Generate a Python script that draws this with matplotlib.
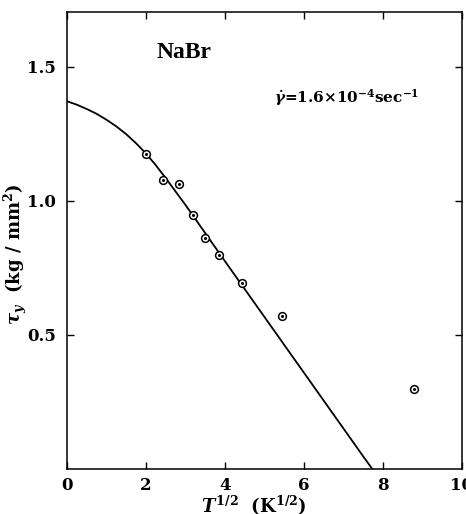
import matplotlib
matplotlib.use("Agg")
import matplotlib.pyplot as plt

# Measured data points (T^1/2, tau_y)
pts_x = [2.00, 2.43, 2.84, 3.18, 3.50, 3.85, 4.43, 5.44, 8.78]
pts_y = [1.174, 1.077, 1.065, 0.946, 0.861, 0.798, 0.693, 0.569, 0.297]

# Theoretical curve
curve_x = [0.0, 0.25, 0.5, 0.75, 1.0, 1.25, 1.5, 1.75, 2.0, 2.25, 2.5,
           3.0, 3.5, 4.0, 4.5, 5.0, 5.5, 6.0, 6.5, 7.0, 7.5, 7.73]
curve_y = [1.372, 1.359, 1.343, 1.325, 1.303, 1.278, 1.249, 1.215, 1.177, 1.133, 1.085,
           0.985, 0.880, 0.775, 0.671, 0.567, 0.463, 0.359, 0.255, 0.151, 0.047, 0.000]

xticks = [0, 2, 4, 6, 8, 10]
yticks = [0.5, 1.0, 1.5]

plt.rcParams['font.family'] = ['DejaVu Serif']
plt.rcParams['font.weight'] = 'bold'
plt.rcParams['axes.labelweight'] = 'bold'
plt.rcParams['mathtext.fontset'] = 'custom'
plt.rcParams['mathtext.rm'] = 'DejaVu Serif:bold'
plt.rcParams['mathtext.it'] = 'DejaVu Serif:bold:italic'
plt.rcParams['mathtext.bf'] = 'DejaVu Serif:bold'

fig = plt.figure(figsize=(4.66, 5.14), dpi=100)
ax = fig.add_axes([0.1438, 0.0875, 0.8476, 0.8892])

# curve
ax.plot(curve_x, curve_y, color='black', linewidth=1.3, zorder=2)

# data points: open circle with a dot in the middle
ax.plot(pts_x, pts_y, linestyle='none', marker='o', markersize=5.6,
        markerfacecolor='white', markeredgecolor='black', markeredgewidth=1.1, zorder=3)
ax.plot(pts_x, pts_y, linestyle='none', marker='o', markersize=1.2,
        color='black', zorder=4)

ax.set_xlim(0, 10)
ax.set_ylim(0, 1.705)
ax.set_xticks(xticks)
ax.set_yticks(yticks)
ax.set_xticklabels([str(t) for t in xticks])
ax.set_yticklabels(['0.5', '1.0', '1.5'])
ax.tick_params(direction='in', length=5, width=1, top=True, right=True,
               labelsize=12)
ax.tick_params(axis='y', pad=8)
ax.tick_params(axis='x', pad=6)
for lab in ax.get_xticklabels() + ax.get_yticklabels():
    lab.set_fontweight('bold')
for sp in ax.spines.values():
    sp.set_linewidth(1.1)

ax.set_xlabel(r'$T^{1/2}$  (K$^{1/2}$)', fontsize=13, fontweight='bold')
ax.xaxis.set_label_coords(0.473, -0.054, transform=ax.transAxes)
ax.xaxis.label.set_va('top')
ax.set_ylabel(r'$\tau_y$  (kg / mm$^2$)', fontsize=13, fontweight='bold')
ax.yaxis.set_label_coords(-0.096, 0.47, transform=ax.transAxes)

ax.text(2.96, 1.555, 'NaBr', fontsize=17, fontweight='bold',
        family='Liberation Serif', ha='center', va='center')
ax.text(7.08, 1.387, r'$\dot{\gamma}$=1.6$\times$10$^{-4}$sec$^{-1}$',
        fontsize=11, fontweight='bold', ha='center', va='center')

fig.savefig('out.png', dpi=100)
